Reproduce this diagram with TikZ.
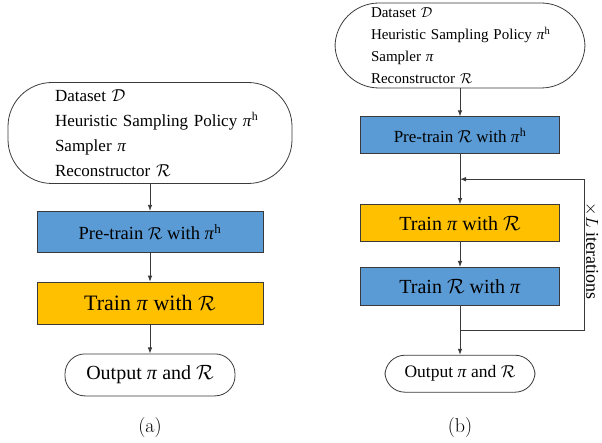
\documentclass[tikz,border=0pt]{standalone}
\usepackage{fontspec}
\newfontfamily\tnr{Liberation Serif}
\usetikzlibrary{positioning,arrows.meta,calc}

\definecolor{boxblue}{HTML}{5B9BD5}
\definecolor{boxgold}{HTML}{FFC000}
\definecolor{edge}{HTML}{3A3A3A}

\newcommand{\ppi}{\textit{π}}
\newcommand{\pih}{\ppi\textsuperscript{h}}

\tikzstyle{inbox} = [draw=edge, line width=0.8pt, rectangle, rounded corners=44pt,
    align=left, inner xsep=0pt]
\tikzstyle{bluebox} = [draw=edge, line width=0.8pt, fill=boxblue, rectangle]
\tikzstyle{goldbox} = [draw=edge, line width=0.8pt, fill=boxgold, rectangle]
\tikzstyle{termbox} = [draw=edge, line width=0.8pt, rectangle, rounded corners=20pt]
\tikzstyle{caption} = [font=\fontsize{20}{24}\selectfont]

\begin{document}
\begin{tikzpicture}[x=1pt, y=1pt, >={Latex[length=6pt,width=4.5pt]},
    line width=0.8pt]
    \useasboundingbox (0,0) rectangle (602,-443);
    % (a)
    \node [inbox, minimum width=284pt, minimum height=101pt, text width=190pt,
        font=\tnr\fontsize{17}{25}\selectfont] (dataA) at (150,-133)
        {Dataset $\mathcal{D}$\\\mbox{Heuristic Sampling Policy \pih}\\Sampler \ppi\\Reconstructor $\mathcal{R}$};
    \node [bluebox, below=27pt of dataA, minimum width=226pt, minimum height=41pt,
        font=\tnr\fontsize{18.5}{22}\selectfont] (preA) {Pre-train $\mathcal{R}$ with \pih};
    \node [goldbox, below=29pt of preA, minimum width=226pt, minimum height=42pt,
        font=\tnr\fontsize{22}{26}\selectfont] (trainA) {Train \ppi{} with $\mathcal{R}$};
    \node [termbox, below=29pt of trainA, minimum width=170pt, minimum height=42pt,
        font=\tnr\fontsize{20}{24}\selectfont] (outA) {Output \ppi{} and $\mathcal{R}$};
    \draw [->, edge] (dataA) -- (preA);
    \draw [->, edge] (preA) -- (trainA);
    \draw [->, edge] (trainA) -- (outA);
    \node [caption] (capA) at (150,-428) {(a)};

    % (b)
    \node [inbox, minimum width=250pt, minimum height=85pt, text width=178pt,
        font=\tnr\fontsize{15}{22}\selectfont] (dataB) at (460,-45.5)
        {Dataset $\mathcal{D}$\\\mbox{Heuristic Sampling Policy \pih}\\Sampler \ppi\\Reconstructor $\mathcal{R}$};
    \node [bluebox, below=28pt of dataB, minimum width=199pt, minimum height=37pt,
        font=\tnr\fontsize{17}{20}\selectfont] (preB) {Pre-train $\mathcal{R}$ with \pih};
    \node [goldbox, below=50pt of preB, minimum width=199pt, minimum height=37pt,
        font=\tnr\fontsize{20}{24}\selectfont] (trainB) {Train \ppi{} with $\mathcal{R}$};
    \node [bluebox, below=25pt of trainB, minimum width=199pt, minimum height=38pt,
        font=\tnr\fontsize{20}{24}\selectfont] (recB) {Train $\mathcal{R}$ with \ppi};
    \node [termbox, below=49pt of recB, minimum width=150pt, minimum height=37pt,
        font=\tnr\fontsize{17.5}{21}\selectfont] (outB) {Output \ppi{} and $\mathcal{R}$};
    \coordinate (joinB) at ($(preB.south)!.5!(trainB.north)$);
    \coordinate (splitB) at ($(recB.south)!.5!(outB.north)$);
    \draw [->, edge] (dataB) -- (preB);
    \draw [->, edge] (preB) -- (trainB);
    \draw [->, edge] (trainB) -- (recB);
    \draw [->, edge] (recB) -- (outB);
    \draw [->, edge] (splitB) -- ++(124,0) |- (joinB);
    \node [rotate=-90, inner sep=0pt, font=\tnr\fontsize{18}{22}\selectfont] (iterB) at (591.5,-251)
        {$\times L$ iterations};
    \node [caption] (capB) at (460,-428) {(b)};
\end{tikzpicture}
\end{document}
